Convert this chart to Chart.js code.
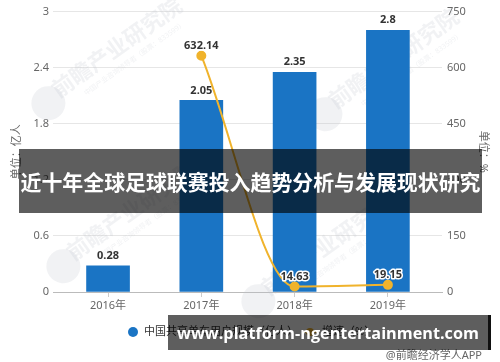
<!DOCTYPE html>
<html>
<head>
<meta charset="utf-8">
<script src="https://cdn.jsdelivr.net/npm/chart.js@4/dist/chart.umd.min.js"></script>
<style>
  body { margin: 0; background: #fff; }
  #wrap { position: relative; width: 500px; height: 362px; overflow: hidden; }
  #chart { position: absolute; left: 0; top: 0; }
  .banner {
    position: absolute;
    background: rgba(0, 0, 0, 0.63);
    color: #fff;
    font-weight: bold;
    display: flex;
    align-items: center;
    justify-content: center;
    white-space: nowrap;
  }
  #titleBar { left: 19px; top: 149px; width: 463px; height: 64px; font-size: 20.6px;
    font-family: "Noto Sans CJK SC", sans-serif; }
  #urlBar { left: 168px; top: 315px; width: 320px; height: 35px; font-size: 18px; border-right: 3px solid #111;
    font-family: "Open Sans", sans-serif; }
</style>
</head>
<body>
<div id="wrap">
  <canvas id="chart" width="500" height="362"></canvas>
  <div class="banner" id="titleBar"><span>近十年全球足球联赛投入趋势分析与发展现状研究</span></div>
  <div class="banner" id="urlBar"><span>www.platform-ngentertainment.com</span></div>
</div>
<script>
// ===== DATA =====
const years = ["2016年", "2017年", "2018年", "2019年"];
const users = [0.28, 2.05, 2.35, 2.8];
const growth = [null, 632.14, 14.63, 19.15];
const leftTicks = [0, 0.6, 1.2, 1.8, 2.4, 3];
const rightTicks = [0, 150, 300, 450, 600, 750];

const FONT = '"Noto Sans", "Noto Sans CJK SC", sans-serif';
const BLUE = "#1a74c4";
const GOLD = "#f0b32c";

// shrink/grow banner text so it spans the same width as in the picture
function fitText(id, target) {
  const span = document.querySelector("#" + id + " span");
  const size = parseFloat(getComputedStyle(span).fontSize);
  const w = span.getBoundingClientRect().width;
  span.style.fontSize = (size * target / w).toFixed(2) + "px";
}
fitText("titleBar", 460);
fitText("urlBar", 302);

// ===== LABELS + WATERMARK =====
const extras = {
  id: "extras",
  beforeDatasetsDraw(chart) {
    const ctx = chart.ctx;
    const marks = [[120, 52], [397, 63], [135, 215], [330, 250]];
    ctx.save();
    marks.forEach(([x, y]) => {
      ctx.save();
      ctx.translate(x, y);
      ctx.rotate(-0.62);
      ctx.fillStyle = "rgba(190,196,204,0.22)";
      ctx.beginPath();
      ctx.arc(-88, 0, 17, 0, Math.PI * 2);
      ctx.fill();
      ctx.font = "bold 22px " + FONT;
      ctx.textAlign = "center";
      ctx.textBaseline = "middle";
      ctx.fillText("前瞻产业研究院", 0, -4);
      ctx.font = "7px " + FONT;
      ctx.fillText("中国产业咨询领导者（股票：833599）", 8, 14);
      ctx.restore();
    });
    ctx.restore();
  },
  afterDatasetsDraw(chart) {
    const ctx = chart.ctx;
    ctx.save();
    ctx.font = "bold 11px " + FONT;
    ctx.textAlign = "center";
    ctx.textBaseline = "middle";

    chart.getDatasetMeta(0).data.forEach((bar, i) => {
      ctx.fillStyle = "#333";
      ctx.fillText(String(users[i]), bar.x, bar.y - 10);
    });

    chart.getDatasetMeta(1).data.forEach((pt, i) => {
      if (growth[i] == null) return;
      ctx.lineWidth = 3;
      ctx.strokeStyle = "#fff";
      ctx.lineJoin = "round";
      ctx.strokeText(growth[i].toFixed(2), pt.x, pt.y - 10);
      ctx.fillStyle = "#333";
      ctx.fillText(growth[i].toFixed(2), pt.x, pt.y - 10);
    });

    // legend
    ctx.font = "11px " + FONT;
    ctx.textAlign = "left";
    ctx.fillStyle = BLUE;
    ctx.beginPath();
    ctx.arc(133, 332, 5, 0, Math.PI * 2);
    ctx.fill();
    ctx.fillStyle = "#333";
    ctx.fillText("中国共享单车用户规模（亿人）", 144, 332);

    ctx.strokeStyle = GOLD;
    ctx.lineWidth = 2;
    ctx.beginPath();
    ctx.moveTo(302, 332);
    ctx.lineTo(318, 332);
    ctx.stroke();
    ctx.fillStyle = GOLD;
    ctx.beginPath();
    ctx.arc(310, 332, 4, 0, Math.PI * 2);
    ctx.fill();
    ctx.fillStyle = "#333";
    ctx.fillText("增速（%）", 322, 332);

    // source
    ctx.textAlign = "right";
    ctx.fillStyle = "#666";
    ctx.font = "11px " + FONT;
    ctx.fillText("@前瞻经济学人APP", 482, 356);
    ctx.restore();
  }
};

new Chart(document.getElementById("chart"), {
  data: {
    datasets: [
      {
        type: "bar",
        label: "中国共享单车用户规模（亿人）",
        data: users.map((v, i) => ({ x: i, y: v })),
        backgroundColor: BLUE,
        barThickness: 43,
        yAxisID: "y",
        order: 2
      },
      {
        type: "line",
        label: "增速（%）",
        data: growth.map((v, i) => ({ x: i, y: v })),
        borderColor: GOLD,
        backgroundColor: GOLD,
        borderWidth: 2,
        pointRadius: 4,
        pointHoverRadius: 4,
        cubicInterpolationMode: "monotone",
        spanGaps: false,
        yAxisID: "y1",
        order: 1
      }
    ]
  },
  options: {
    responsive: false,
    animation: false,
    devicePixelRatio: 1,
    layout: { padding: { top: 9, left: 0, right: 0, bottom: 0 } },
    plugins: {
      legend: { display: false },
      tooltip: { enabled: false }
    },
    scales: {
      x: {
        type: "linear",
        offset: false,
        min: -0.59,
        max: 3.58,
        afterFit: s => { s.height = 70; },
        afterBuildTicks: s => { s.ticks = years.map((_, i) => ({ value: i })); },
        ticks: {
          callback: v => years[v],
          color: "#666",
          font: { size: 11, family: FONT },
          padding: 2
        },
        grid: { offset: false, drawOnChartArea: false, drawTicks: true, tickLength: 5, color: "#ccc" },
        border: { color: "#bbb" }
      },
      y: {
        position: "left",
        min: 0,
        max: 3,
        afterFit: s => { s.width = 53; },
        afterBuildTicks: s => { s.ticks = leftTicks.map(v => ({ value: v })); },
        ticks: {
          callback: v => String(v),
          color: "#666",
          font: { size: 11, family: FONT },
          padding: 4
        },
        grid: { color: "#e6e6e6", drawTicks: false },
        border: { display: false },
        title: {
          display: true,
          text: "单位：亿人",
          color: "#666",
          font: { size: 11, family: FONT },
          padding: { top: 10, bottom: 0 }
        }
      },
      y1: {
        position: "right",
        min: 0,
        max: 750,
        afterFit: s => { s.width = 58; },
        afterBuildTicks: s => { s.ticks = rightTicks.map(v => ({ value: v })); },
        ticks: {
          callback: v => String(v),
          color: "#666",
          font: { size: 11, family: FONT },
          padding: 5
        },
        grid: { drawOnChartArea: false, drawTicks: false },
        border: { display: false },
        title: {
          display: true,
          text: "单位：%",
          color: "#666",
          font: { size: 11, family: FONT },
          padding: { top: 10, bottom: 0 }
        }
      }
    }
  },
  plugins: [extras]
});
</script>
</body>
</html>
